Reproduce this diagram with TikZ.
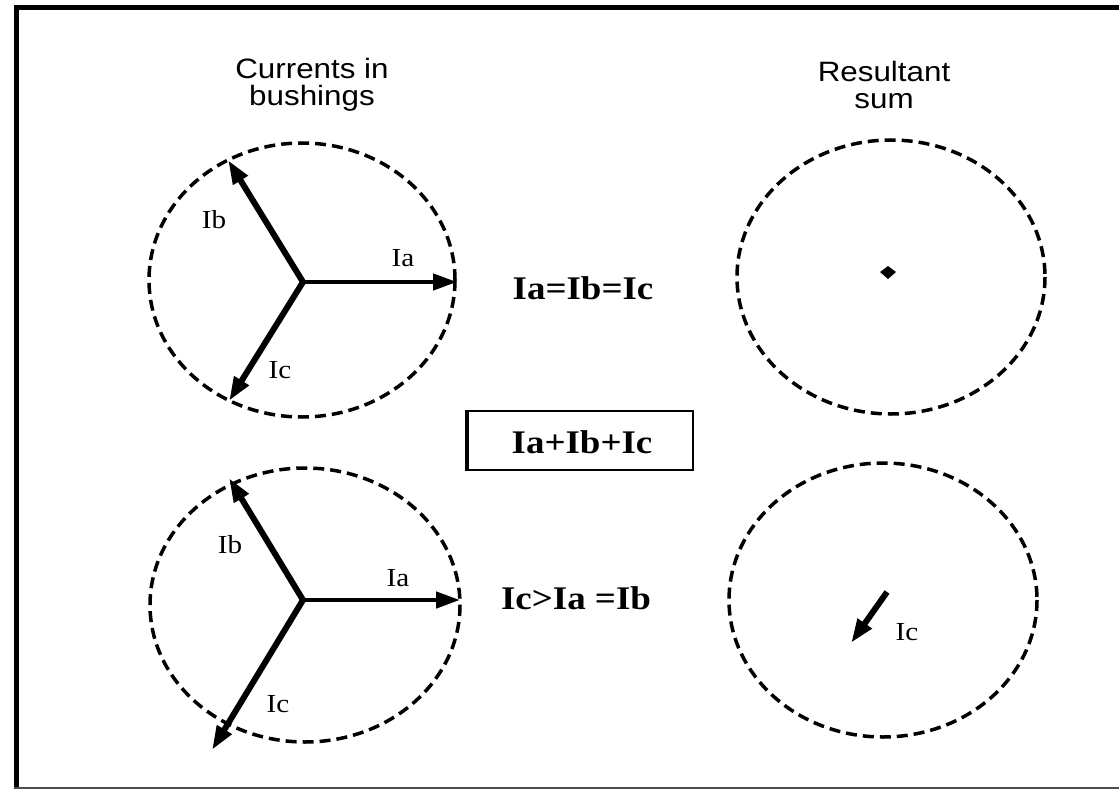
\documentclass[tikz,border=0pt]{standalone}
\usepackage{fontspec}
\setmainfont{Liberation Serif}
\setsansfont{Liberation Sans}
\usetikzlibrary{arrows.meta}
% text is set slightly wider than the font's natural width
\newcommand{\widetext}[1]{\scalebox{1.12}[1]{#1}}

\begin{document}
\begin{tikzpicture}[x=1pt,y=-1pt,
  ring/.style={draw, line width=3.5pt, dash pattern=on 11pt off 6pt},
  phasor/.style={line width=6pt, -{Triangle[length=24pt,width=16pt]}},
  header/.style={font=\sffamily\fontsize{28}{27}\selectfont, align=center, inner sep=0pt},
  lbl/.style={font=\fontsize{26}{28}\selectfont, inner sep=0pt},
  relation/.style={font=\bfseries\fontsize{33}{36}\selectfont, inner sep=0pt},
  sumbox/.style={draw, line width=2pt, minimum width=225pt, minimum height=59pt, inner sep=0pt},
]
\useasboundingbox (0,0) rectangle (1119,789);

% outer frame (top, left and bottom edges)
\draw[line width=5pt] (14,8) -- (1119,8);
\draw[line width=5pt] (16.5,5.5) -- (16.5,789);
\draw[line width=2pt, black!70] (14,788) -- (1119,788);

% column headings
\node[header] (hleft)  at (312,85) {\widetext{Currents in}\\\widetext{bushings}};
\node[header] (hright) at (884,85) {\widetext{Resultant}\\\widetext{sum}};

% balanced currents
\draw[ring] (302,280) ellipse [x radius=153, y radius=137];
\coordinate (o1) at (303,282);
\coordinate (a1) at (457,282);
\coordinate (b1) at (228,160);
\coordinate (c1) at (229,401);
\draw[phasor, line width=4.5pt] (o1) -- (a1);
\draw[phasor] (o1) -- (b1);
\draw[phasor] (o1) -- (c1);
\node[lbl] (lb1) at (214,220) {\widetext{Ib}};
\node[lbl] (la1) at (403,258) {\widetext{Ia}};
\node[lbl] (lc1) at (280,370) {\widetext{Ic}};

% unbalanced currents
\draw[ring] (305,605) ellipse [x radius=155, y radius=137];
\coordinate (o2) at (303,600);
\coordinate (a2) at (460,600);
\coordinate (b2) at (229,478);
\coordinate (c2) at (212,750);
\draw[phasor, line width=4.5pt] (o2) -- (a2);
\draw[phasor] (o2) -- (b2);
\draw[phasor] (o2) -- (c2);
\node[lbl] (lb2) at (230,545) {\widetext{Ib}};
\node[lbl] (la2) at (398,578) {\widetext{Ia}};
\node[lbl] (lc2) at (278,704) {\widetext{Ic}};

% relations between the currents
\node[relation] (eq1) at (583,288) {\widetext{Ia=Ib=Ic}};
\node[sumbox] (sum) at (580.5,440.5) {};
\node[relation] (sumtext) at (582,442) {\widetext{Ia+Ib+Ic}};
\draw[line width=4pt] (sum.north west) -- (sum.south west);
\node[relation] (eq2) at (576,598) {\widetext{Ic>Ia =Ib}};

% resultant sums
\draw[ring] (891,277) ellipse [x radius=154, y radius=137];
\fill (880,272) -- (888,266) -- (896,272) -- (888,279) -- cycle;
\draw[ring] (883,600) ellipse [x radius=154, y radius=137];
\coordinate (o4) at (887,592);
\coordinate (r4) at (851,643);
\draw[phasor] (o4) -- (r4);
\node[lbl] (lc4) at (907,632) {\widetext{Ic}};
\end{tikzpicture}
\end{document}
